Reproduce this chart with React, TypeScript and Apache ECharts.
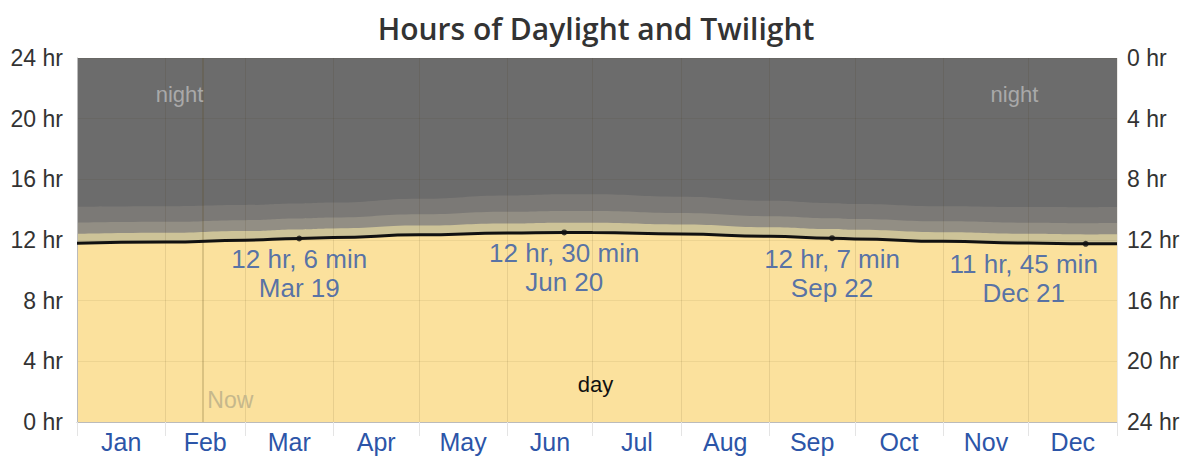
import React, { useEffect, useRef } from "react";
import * as echarts from "echarts";

// Day of year for each sample
const DAYS = [0, 31, 59, 78, 90, 120, 151, 171, 181, 212, 243, 265, 273, 304, 334, 354, 365];
// Hours of daylight
const DAYLIGHT = [11.78, 11.86, 11.99, 12.1, 12.16, 12.34, 12.46, 12.5, 12.49, 12.4, 12.24, 12.12, 12.07, 11.91, 11.8, 11.75, 11.76];
// Twilight durations (hours)
const CIVIL = [0.62, 0.61, 0.6, 0.6, 0.6, 0.61, 0.63, 0.64, 0.64, 0.62, 0.6, 0.6, 0.6, 0.6, 0.61, 0.62, 0.62];
const NAUTICAL = [0.74, 0.73, 0.72, 0.72, 0.72, 0.74, 0.77, 0.78, 0.78, 0.76, 0.73, 0.72, 0.72, 0.72, 0.73, 0.74, 0.74];
const ASTRO = [1.05, 1.03, 1.0, 0.99, 0.99, 1.03, 1.08, 1.1, 1.1, 1.07, 1.01, 0.99, 0.99, 1.0, 1.03, 1.05, 1.05];

const MONTHS = ["Jan", "Feb", "Mar", "Apr", "May", "Jun", "Jul", "Aug", "Sep", "Oct", "Nov", "Dec"];
const MONTH_STARTS = [0, 31, 59, 90, 120, 151, 181, 212, 243, 273, 304, 334, 365];
const MONTH_MIDS = [15.5, 45, 74.5, 105, 135.5, 166, 196.5, 227.5, 258, 288.5, 319, 349.5];

const KEY_DAYS = [78, 171, 265, 354];
const KEY_HOURS = [12.1, 12.5, 12.12, 11.75];
const KEY_LENGTHS = ["12 hr, 6 min", "12 hr, 30 min", "12 hr, 7 min", "11 hr, 45 min"];
const KEY_DATES = ["Mar 19", "Jun 20", "Sep 22", "Dec 21"];

const NOW_DAY = 44;

const FONT = "'Liberation Sans', Arial, sans-serif";
const BLUE = "#2c55a8";

export default function App() {
  const ref = useRef<HTMLDivElement>(null);
  useEffect(() => {
    if (!ref.current) return;
    const chart = echarts.init(ref.current, null, { renderer: "svg" });
    // cumulative tops of each band
    const topDay = DAYLIGHT;
    const topCivil = DAYLIGHT.map((v, i) => v + CIVIL[i]);
    const topNaut = topCivil.map((v, i) => v + NAUTICAL[i]);
    const topAstro = topNaut.map((v, i) => v + ASTRO[i]);
    const pairs = (arr: number[]) => DAYS.map((d, i) => [d, arr[i]]);
    const area = (name: string, arr: number[], color: string) => ({
      name,
      type: "line",
      data: pairs(arr),
      smooth: true,
      smoothMonotone: "x",
      showSymbol: false,
      symbol: "none",
      lineStyle: { width: 0 },
      areaStyle: { color, opacity: 1, origin: "start" },
      z: 2,
      silent: true,
    });
    chart.setOption({
      animation: false,
      title: {
        text: "Hours of Daylight and Twilight",
        left: "center",
        top: 0,
        textStyle: { fontFamily: "'Open Sans', sans-serif", fontWeight: 600, fontSize: 30, color: "#333" },
      },
      grid: {
        left: 69,
        right: 67,
        top: 50,
        bottom: 37,
        show: true,
        backgroundColor: "#6c6c6c",
        borderWidth: 0,
        outerBoundsMode: "none",
      },
      xAxis: {
        type: "value",
        min: 0,
        max: 365,
        z: 5,
        axisLine: { show: true, lineStyle: { color: "#bbb", width: 1 } },
        axisTick: { show: true, customValues: MONTH_STARTS, length: 14, lineStyle: { color: "#e4e4e4" } },
        axisLabel: {
          customValues: MONTH_MIDS,
          formatter: (v: number) => MONTHS[MONTH_MIDS.indexOf(v)] ?? "",
          color: BLUE,
          fontSize: 25,
          fontFamily: FONT,
          margin: 7,
        },
        splitLine: { show: true, lineStyle: { color: "rgba(60,40,0,0.1)", width: 1 } },
      },
      yAxis: [
        {
          type: "value",
          min: 0,
          max: 24,
          interval: 4,
          z: 5,
          axisLine: { show: true, lineStyle: { color: "#bbb" } },
          axisTick: { show: false },
          axisLabel: { formatter: "{value} hr", color: "#333", fontSize: 23, fontFamily: FONT, margin: 14 },
          splitLine: { show: true, lineStyle: { color: "rgba(60,40,0,0.07)" } },
        },
        {
          type: "value",
          min: 0,
          max: 24,
          interval: 4,
          inverse: true,
          position: "right",
          axisLine: { show: false },
          axisTick: { show: false },
          axisLabel: { formatter: "{value} hr", color: "#333", fontSize: 23, fontFamily: FONT, margin: 10 },
          splitLine: { show: false },
        },
      ],
      series: [
        area("astronomical twilight", topAstro, "#7b7976"),
        area("nautical twilight", topNaut, "#928e84"),
        area("civil twilight", topCivil, "#cdc398"),
        area("day", topDay, "#fbe19d"),
        {
          name: "daylight",
          type: "line",
          data: pairs(DAYLIGHT),
          smooth: true,
          smoothMonotone: "x",
          showSymbol: false,
          symbol: "none",
          lineStyle: { color: "#111", width: 3 },
          z: 6,
          silent: true,
          markLine: {
            silent: true,
            symbol: "none",
            label: { show: false },
            lineStyle: { color: "rgba(90,70,20,0.2)", width: 2, type: "solid" },
            data: [{ xAxis: NOW_DAY }],
          },
          markPoint: {
            silent: true,
            symbol: "circle",
            symbolSize: 0,
            data: [
              {
                coord: [NOW_DAY, 1.45],
                label: { show: true, formatter: "Now", position: "right", distance: 5, color: "#c6b88c", fontSize: 23, fontFamily: FONT },
              },
              {
                coord: [36, 21.6],
                label: { show: true, formatter: "night", position: "inside", color: "#a9a9a9", fontSize: 22, fontFamily: FONT },
              },
              {
                coord: [329, 21.6],
                label: { show: true, formatter: "night", position: "inside", color: "#a9a9a9", fontSize: 22, fontFamily: FONT },
              },
              {
                coord: [182, 2.45],
                label: { show: true, formatter: "day", position: "inside", color: "#111", fontSize: 22, fontFamily: FONT },
              },
            ],
          },
        },
        {
          name: "key",
          type: "scatter",
          data: KEY_DAYS.map((d, i) => ({
            value: [d, KEY_HOURS[i]],
            label: i === KEY_DAYS.length - 1 ? { offset: [-62, 0] } : undefined,
          })),
          symbol: "circle",
          symbolSize: 6,
          itemStyle: { color: "#111" },
          z: 7,
          silent: true,
          label: {
            show: true,
            position: "bottom",
            distance: 3,
            color: BLUE,
            fontSize: 26,
            lineHeight: 29,
            fontFamily: FONT,
            formatter: (p: any) => KEY_LENGTHS[p.dataIndex] + "\n" + KEY_DATES[p.dataIndex],
          },
        },
      ],
    });
    return () => chart.dispose();
  }, []);
  return <div ref={ref} style={{ width: 1176, height: 451 }} />;
}
